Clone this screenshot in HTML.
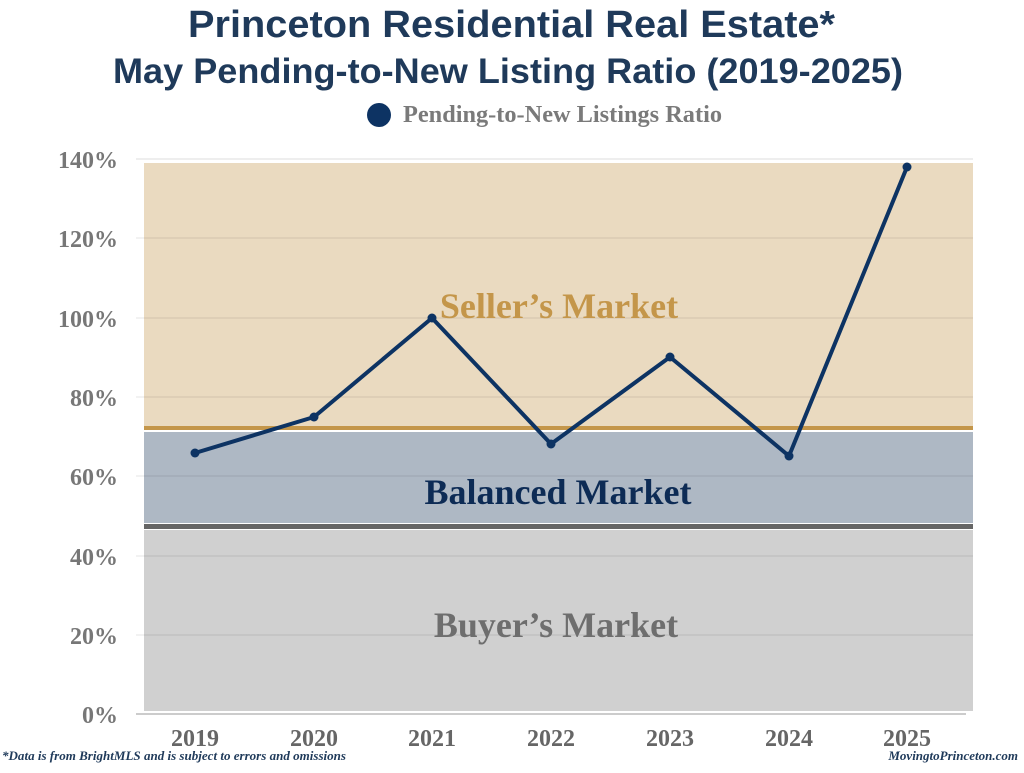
<!DOCTYPE html>
<html><head><meta charset="utf-8"><style>
body{margin:0;background:#fff;}
svg text{font-family:"Liberation Serif",serif;}
</style></head><body>
<svg width="1024" height="768" viewBox="0 0 1024 768" xmlns="http://www.w3.org/2000/svg">
<text x="188" y="37" textLength="647" lengthAdjust="spacingAndGlyphs" style="font-family:'Liberation Sans',sans-serif;font-weight:bold;font-size:38px" fill="#1f3a5a">Princeton Residential Real Estate*</text>
<text x="113" y="83" textLength="790" lengthAdjust="spacingAndGlyphs" style="font-family:'Liberation Sans',sans-serif;font-weight:bold;font-size:35px" fill="#1f3a5a">May Pending-to-New Listing Ratio (2019-2025)</text>
<circle cx="379" cy="115" r="12" fill="#0d3363"/>
<text x="403" y="122" textLength="319" lengthAdjust="spacingAndGlyphs" font-size="24" font-weight="bold" fill="#7a7a7a">Pending-to-New Listings Ratio</text>
<rect x="144" y="163" width="829" height="263" fill="#eadac0"/>
<rect x="144" y="432" width="829" height="91" fill="#aeb8c4"/>
<rect x="144" y="530" width="829" height="181" fill="#d0d0d0"/>
<g stroke="#000" stroke-opacity="0.1" stroke-width="1">
<line x1="136" y1="159" x2="973" y2="159" stroke="#ddd" stroke-opacity="1"/>
<line x1="136" y1="238" x2="973" y2="238"/>
<line x1="136" y1="318" x2="973" y2="318"/>
<line x1="136" y1="397" x2="973" y2="397"/>
<line x1="136" y1="476" x2="973" y2="476"/>
<line x1="136" y1="556" x2="973" y2="556"/>
<line x1="136" y1="635" x2="973" y2="635"/>
</g>
<line x1="136" y1="714" x2="966" y2="714" stroke="#bbb" stroke-width="1.5"/>
<rect x="144" y="426" width="829" height="4" fill="#c4964a"/>
<rect x="144" y="524" width="829" height="5" fill="#666"/>
<g font-size="24" font-weight="bold" fill="#777" text-anchor="end">
<text x="118" y="168">140%</text><text x="118" y="247">120%</text><text x="118" y="327">100%</text>
<text x="118" y="406">80%</text><text x="118" y="485">60%</text><text x="118" y="565">40%</text>
<text x="118" y="644">20%</text><text x="118" y="723">0%</text>
</g>
<g font-size="24" font-weight="bold" fill="#666" text-anchor="middle">
<text x="195" y="746">2019</text><text x="314" y="746">2020</text><text x="432" y="746">2021</text>
<text x="551" y="746">2022</text><text x="670" y="746">2023</text><text x="789" y="746">2024</text><text x="907" y="746">2025</text>
</g>
<g font-size="36" font-weight="bold" text-anchor="middle">
<text x="559" y="318" fill="#c4964a">Seller’s Market</text>
<text x="558" y="504" fill="#0d2b55">Balanced Market</text>
<text x="556" y="637" fill="#6e6e6e">Buyer’s Market</text>
</g>
<polyline points="195,453 314,417 432,318 551,444 670,357 789,456 907,167" fill="none" stroke="#0d3363" stroke-width="4" stroke-linejoin="round"/>
<g fill="#0d3363">
<circle cx="195" cy="453" r="4.5"/><circle cx="314" cy="417" r="4.5"/><circle cx="432" cy="318" r="4.5"/>
<circle cx="551" cy="444" r="4.5"/><circle cx="670" cy="357" r="4.5"/><circle cx="789" cy="456" r="4.5"/><circle cx="907" cy="167" r="4.5"/>
</g>
<text x="2" y="760" textLength="344" lengthAdjust="spacingAndGlyphs" font-size="13" font-style="italic" font-weight="bold" fill="#1f3a5a">*Data is from BrightMLS and is subject to errors and omissions</text>
<text x="1018" y="760" font-size="13" font-style="italic" font-weight="bold" fill="#1f3a5a" text-anchor="end">MovingtoPrinceton.com</text>
</svg>
</body></html>
